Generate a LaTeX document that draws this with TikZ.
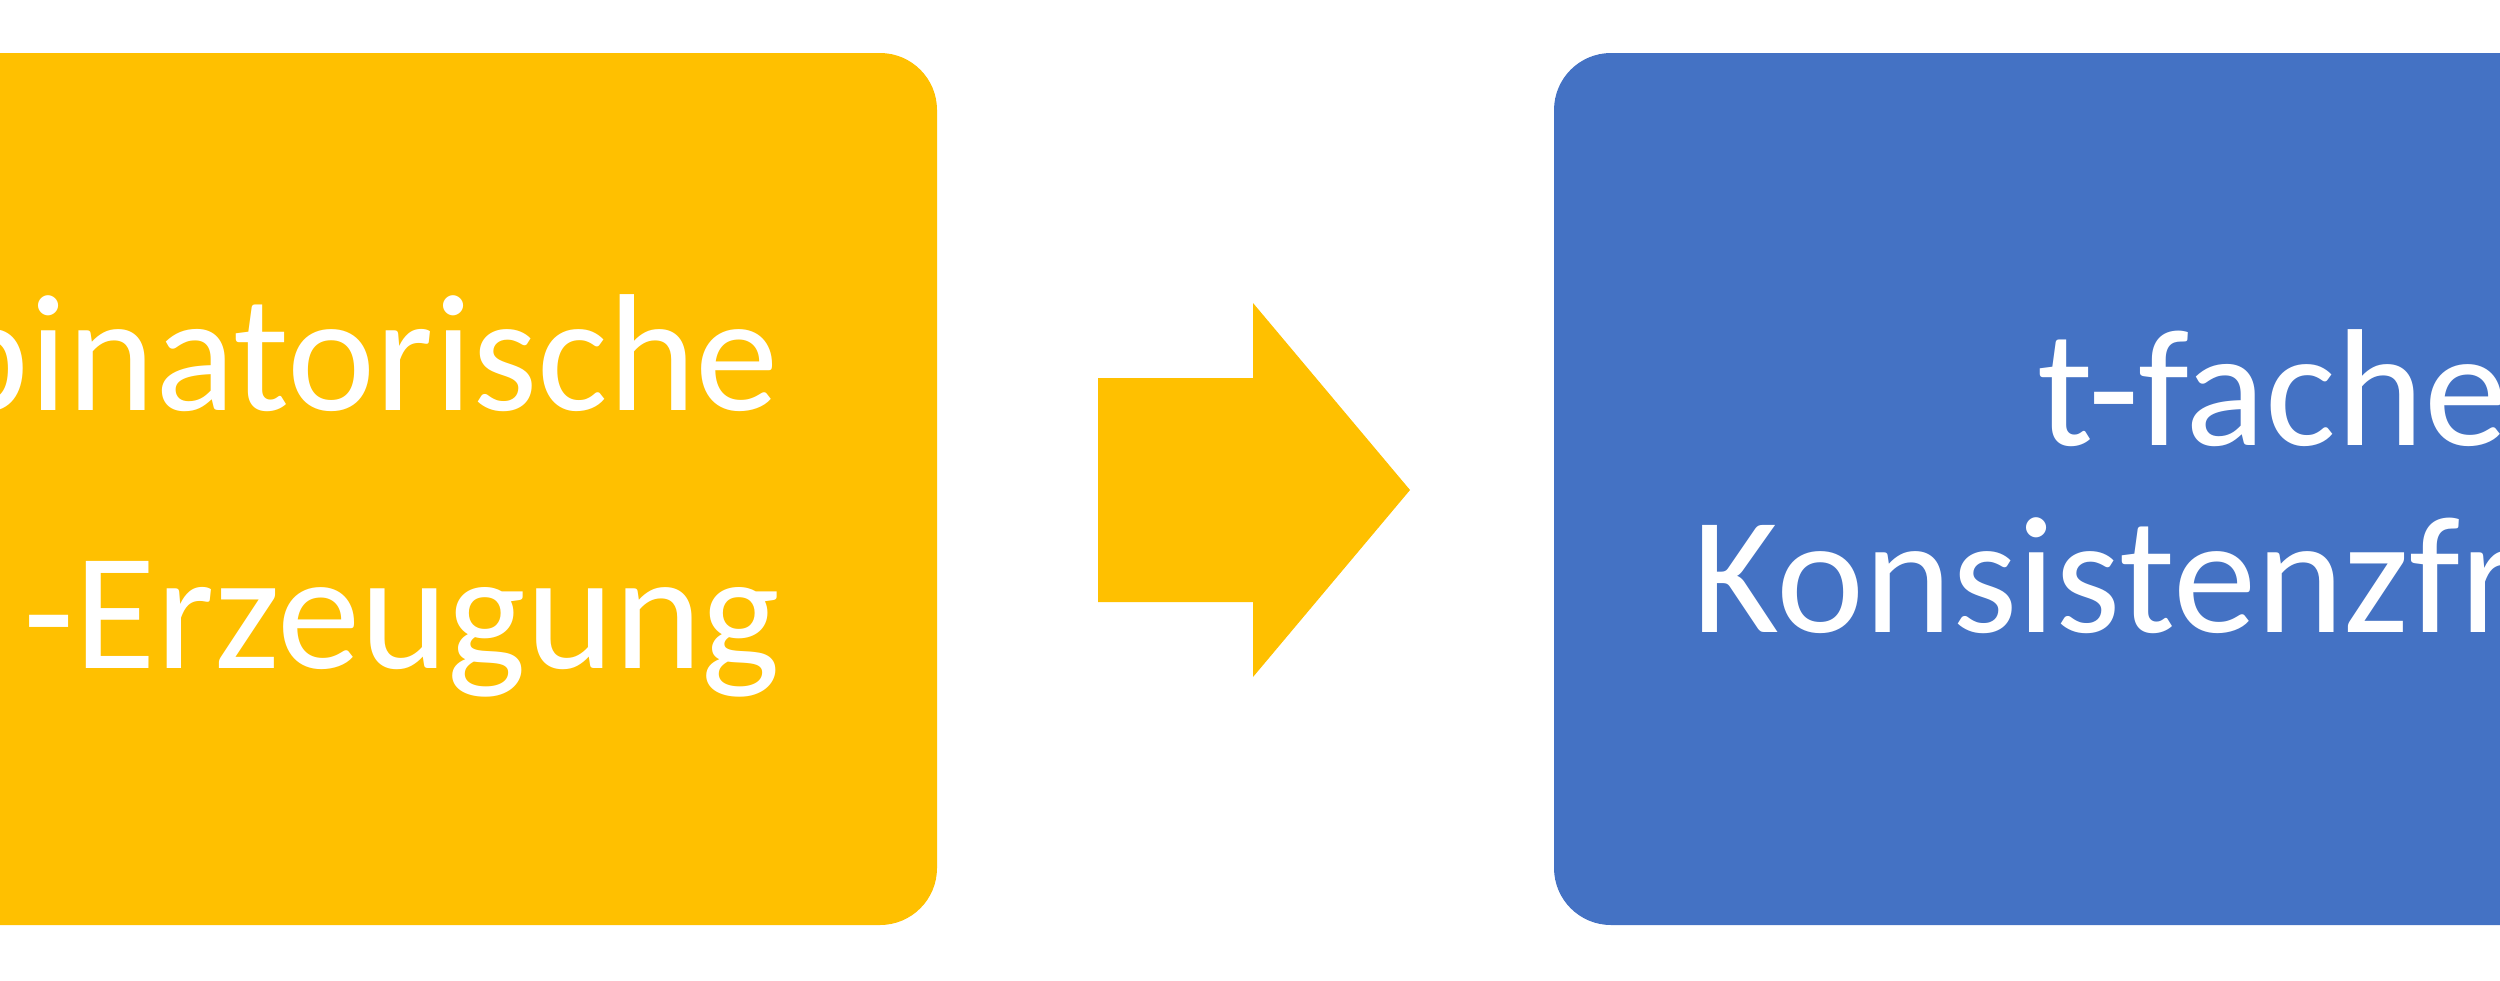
\documentclass[tikz,border=0pt]{standalone}
\usepackage{fontspec}
\setmainfont{Carlito}
\definecolor{gelb}{HTML}{FFC000}
\definecolor{blau}{HTML}{4472C4}

\begin{document}
\begin{tikzpicture}
  [
    box/.style={minimum width=124mm, minimum height=87.2mm,
      inner sep=0mm, rounded corners=5.7mm},
    txt/.style={text=white, inner sep=0mm,
      font=\fontsize{47.5}{57}\selectfont}
  ]
  \useasboundingbox (0,0) rectangle (25,9.8);
  \clip (0,0) rectangle (25,9.8);

  \node (b1) at (3.17,4.91) [box, fill=gelb] {};
  \node (b2) at (21.74,4.91) [box, fill=blau] {};

  \node (t1) at (7.80,5.70) [txt, anchor=base east] {binatorische};
  \node (t2) at (7.81,3.12) [txt, anchor=base east] {-Erzeugung};
  \node (t3) at (20.37,5.35) [txt, anchor=base west] {t-fache};
  \node (t4) at (16.92,3.48) [txt, anchor=base west] {Konsistenzfr};

  \coordinate (a0) at (10.98,4.90);
  \coordinate (a1) at (14.10,4.90);
  \fill [gelb] (a0) ++(0,-1.12) -- ++(1.55,0) -- ++(0,-0.75) -- (a1)
    -- ++(-1.57,1.87) -- ++(0,-0.75) -- ++(-1.55,0) -- cycle;
\end{tikzpicture}
\end{document}
